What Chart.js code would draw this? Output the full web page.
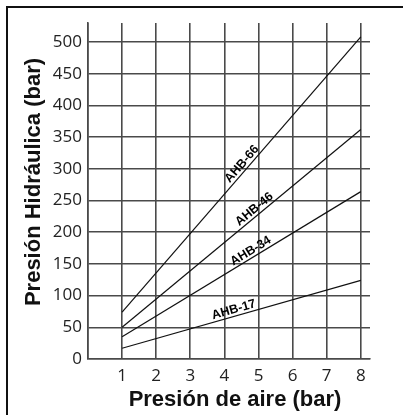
<!DOCTYPE html>
<html>
<head>
<meta charset="utf-8">
<script src="https://cdn.jsdelivr.net/npm/chart.js@4"></script>
<style>
  html, body { margin: 0; padding: 0; background: #fff; }
  #wrap { position: relative; width: 403px; height: 415px; }
</style>
</head>
<body>
<div id="wrap"><canvas id="chart" width="403" height="415"></canvas></div>
<script>
// data
const airPressure = [1, 8];
const xTicks = [0, 1, 2, 3, 4, 5, 6, 7, 8];
const yTicks = [0, 50, 100, 150, 200, 250, 300, 350, 400, 450, 500];
const seriesNames = ['AHB-66', 'AHB-46', 'AHB-34', 'AHB-17'];
const ahb66 = [74, 508];
const ahb46 = [50, 362];
const ahb34 = [35, 264];
const ahb17 = [17, 124];
// where along each line (in bar) the label sits
const labelAt = [4.66, 5.0, 4.87, 4.33];

const gridColor = '#4a4a4a';

function toPoints(values) {
    return airPressure.map((x, i) => ({ x: x, y: values[i] }));
}

const lineLabels = {
    id: 'lineLabels',
    afterDatasetsDraw(chart) {
        const ctx = chart.ctx;
        const xs = chart.scales.x;
        const ys = chart.scales.y;
        chart.data.datasets.forEach((ds, i) => {
            const p0 = ds.data[0], p1 = ds.data[1];
            const x0 = xs.getPixelForValue(p0.x), y0 = ys.getPixelForValue(p0.y);
            const x1 = xs.getPixelForValue(p1.x), y1 = ys.getPixelForValue(p1.y);
            const angle = Math.atan2(y1 - y0, x1 - x0);
            const v = labelAt[i];
            const yv = p0.y + (p1.y - p0.y) * (v - p0.x) / (p1.x - p0.x);
            ctx.save();
            ctx.translate(xs.getPixelForValue(v), ys.getPixelForValue(yv));
            ctx.rotate(angle);
            ctx.font = 'bold 12.5px "Liberation Sans", Arial, sans-serif';
            ctx.fillStyle = '#000';
            ctx.textAlign = 'center';
            ctx.textBaseline = 'alphabetic';
            ctx.fillText(ds.label, 0, -3);
            ctx.restore();
        });
    }
};

const frameAndTitles = {
    id: 'frameAndTitles',
    beforeDraw(chart) {
        const ctx = chart.ctx;
        ctx.save();
        ctx.fillStyle = '#fff';
        ctx.fillRect(0, 0, chart.width, chart.height);
        ctx.strokeStyle = '#111';
        ctx.lineWidth = 2;
        ctx.beginPath();
        ctx.moveTo(7, chart.height);
        ctx.lineTo(7, 7);
        ctx.lineTo(chart.width, 7);
        ctx.stroke();
        ctx.restore();
    },
    afterDraw(chart) {
        const ctx = chart.ctx;
        ctx.save();
        ctx.fillStyle = '#111';
        ctx.font = 'bold 22px "Liberation Sans", Arial, sans-serif';
        ctx.textAlign = 'center';
        ctx.textBaseline = 'alphabetic';
        ctx.fillText('Presión de aire (bar)', 235, 406);
        ctx.translate(40, 182);
        ctx.rotate(-Math.PI / 2);
        ctx.fillText('Presión Hidráulica (bar)', 0, 0);
        ctx.restore();
    }
};

new Chart(document.getElementById('chart'), {
    type: 'line',
    data: {
        datasets: [
            { label: seriesNames[0], data: toPoints(ahb66) },
            { label: seriesNames[1], data: toPoints(ahb46) },
            { label: seriesNames[2], data: toPoints(ahb34) },
            { label: seriesNames[3], data: toPoints(ahb17) }
        ].map(ds => Object.assign(ds, {
            borderColor: '#111',
            borderWidth: 1.2,
            pointRadius: 0,
            tension: 0,
            fill: false
        }))
    },
    options: {
        responsive: false,
        animation: false,
        layout: { padding: { left: 0, top: 23, right: 33, bottom: 0 } },
        plugins: {
            legend: { display: false },
            tooltip: { enabled: false }
        },
        scales: {
            x: {
                type: 'linear',
                min: 0,
                max: 8.27,
                afterBuildTicks: scale => { scale.ticks = xTicks.map(v => ({ value: v })); },
                afterFit: scale => { scale.height = 56; },
                grid: { color: gridColor, lineWidth: 1.6, drawTicks: false },
                border: { color: gridColor, width: 1.6 },
                ticks: {
                    padding: 7,
                    color: '#222',
                    font: { family: '"Open Sans", sans-serif', size: 17 },
                    callback: v => (v === 0 ? '' : String(v))
                }
            },
            y: {
                type: 'linear',
                min: 0,
                max: 530,
                afterBuildTicks: scale => { scale.ticks = yTicks.map(v => ({ value: v })); },
                afterFit: scale => { scale.width = 88; },
                grid: { color: gridColor, lineWidth: 1.6, drawTicks: false },
                border: { color: gridColor, width: 1.6 },
                ticks: {
                    padding: 6,
                    color: '#222',
                    font: { family: '"Open Sans", sans-serif', size: 17 },
                    callback: v => String(v)
                }
            }
        }
    },
    plugins: [frameAndTitles, lineLabels]
});
</script>
</body>
</html>
